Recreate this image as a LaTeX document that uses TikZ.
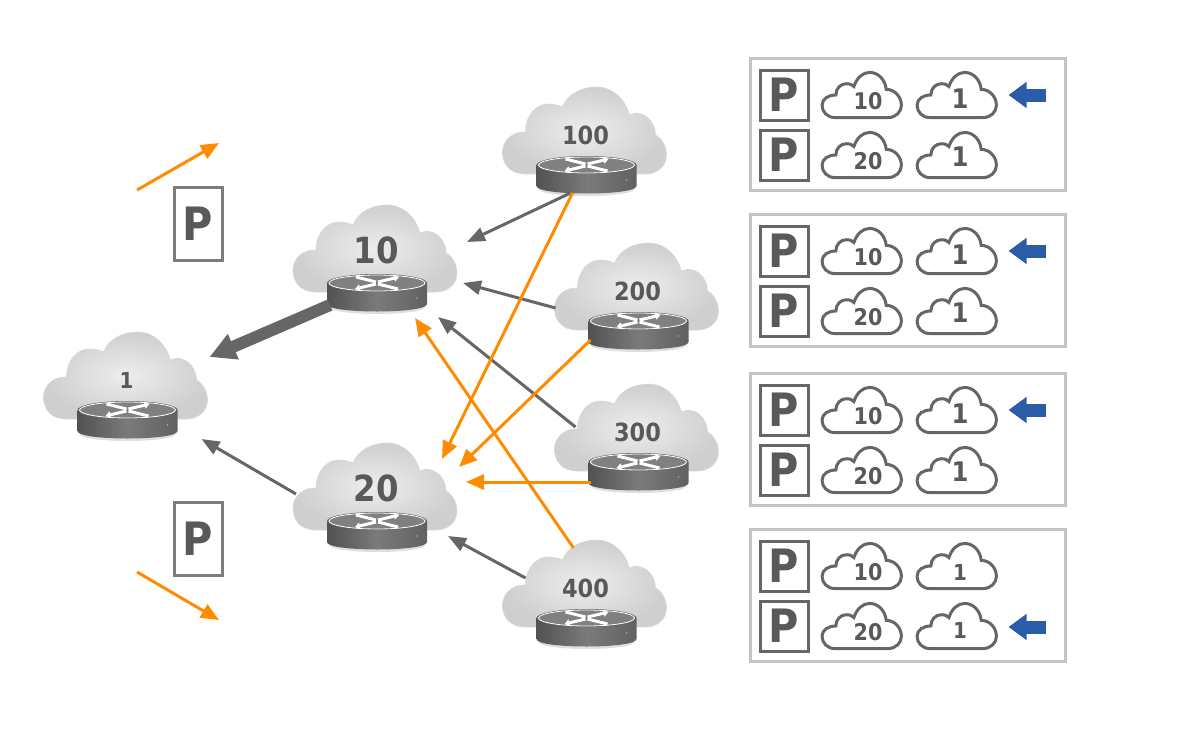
\documentclass[tikz,border=0pt]{standalone}
\usepackage{fontspec}
\setmainfont{DejaVu Sans Condensed}
\usetikzlibrary{arrows.meta}
\definecolor{numgray}{HTML}{595959}
\definecolor{linegray}{HTML}{666666}
\definecolor{boxgray}{HTML}{C4C4C4}
\definecolor{pathorange}{HTML}{FF8C00}
\definecolor{bestblue}{HTML}{2B5CA8}
\newcommand{\cloudshape}{(-60,32) .. controls (-76,32) and (-83,22) .. (-83,10) .. controls (-83,-2) and (-72,-11) .. (-60,-10) .. controls (-60,-28) and (-48,-38) .. (-38,-38) .. controls (-32,-38) and (-27,-37) .. (-23,-35) .. controls (-18,-48) and (-4,-55) .. (11,-55) .. controls (28,-55) and (40,-42) .. (44,-27) .. controls (56,-33) and (70,-22) .. (70,-7) .. controls (76,-4) and (81,4) .. (81,13) .. controls (81,24) and (72,32) .. (60,32) -- cycle}
\newcommand{\iconshape}{(-28,24) .. controls (-36,24) and (-41.5,18) .. (-41.5,11) .. controls (-41.5,4) and (-35,0) .. (-27,0) .. controls (-27,-7) and (-22,-12) .. (-16,-12) .. controls (-12,-12) and (-10,-11) .. (-8,-9) .. controls (-5,-18) and (1,-24) .. (8.5,-24) .. controls (18,-24) and (25,-16) .. (26,-6) .. controls (35,-6) and (42,2) .. (42,11) .. controls (42,18) and (36,24) .. (28,24) -- cycle}
\begin{document}
\begin{tikzpicture}[x=1pt,y=-1pt]
    \tikzset{bignum/.style = {font=\fontsize{36}{36}\selectfont\bfseries,text=numgray,inner sep=0pt}}
    \tikzset{midnum/.style = {font=\fontsize{25}{25}\selectfont\bfseries,text=numgray,inner sep=0pt}}
    \tikzset{smallnum/.style = {font=\fontsize{22}{22}\selectfont\bfseries,text=numgray,inner sep=0pt}}
    \tikzset{iconnum/.style = {font=\fontsize{23}{23}\selectfont\bfseries,text=numgray,inner sep=0pt}}
    \tikzset{prefixbox/.style = {draw=linegray,line width=3pt,minimum width=48pt,minimum height=50pt,inner sep=0pt,text=numgray,font=\fontsize{46}{46}\selectfont\bfseries}}
    \tikzset{tallbox/.style = {prefixbox,draw=linegray!85,minimum height=73pt}}
    \tikzset{panelbox/.style = {draw=boxgray,line width=3pt,minimum width=315pt,minimum height=132pt,inner sep=0pt}}
    \tikzset{grayedge/.style = {draw=linegray,line width=3pt,-{Triangle[length=18pt,width=14pt]}}}
    \tikzset{orangeedge/.style = {draw=pathorange,line width=3pt,-{Triangle[length=18pt,width=15pt]}}}
    \tikzset{bestedge/.style = {draw=linegray,line width=12pt,-{Triangle[length=26pt,width=26pt]}}}
    \tikzset{bluemark/.style = {draw=bestblue,line width=13pt,-{Triangle[length=18pt,width=25pt]}}}
    \tikzset{netcloud/.pic = {
        \shade[inner color=gray!14,outer color=gray!38] \cloudshape;
        \draw[gray!30,line width=.6pt] \cloudshape;
        \fill[black!25,opacity=.5] (1,47) ellipse [x radius=48pt,y radius=7pt];
        \shade[left color=black!68,right color=black!62,middle color=black!52] (-49,23) -- (-49,44) .. controls (-49,54) and (51,54) .. (51,44) -- (51,23) -- cycle;
        \fill[black!62] (1,23) ellipse [x radius=50pt,y radius=9pt];
        \fill[black!50,draw=white,line width=.8pt] (1,23) ellipse [x radius=48pt,y radius=8pt];
        \draw[white,line width=3pt,-{Triangle[length=5pt,width=7pt]}] (0,24) -- (-21,29);
        \draw[white,line width=3pt,-{Triangle[length=5pt,width=7pt]}] (2,22) -- (23,17);
        \draw[white,line width=3pt] (0,22) -- (-20,17);
        \draw[white,line width=3pt] (2,24) -- (22,29);
        \fill[yellow!70!black] (41,38) circle (.8pt);
    }}
    \tikzset{iconcloud/.pic = {
        \draw[draw=linegray,line width=3pt,fill=white,xscale=.95,yscale=.94] \iconshape;
    }}
    \useasboundingbox (0,0) rectangle (1200,750);
    %clouds
    \foreach \name/\cx/\cy/\ty/\numstyle in {1/126.5/387/380/smallnum,10/376/260/250/bignum,20/376/498/488/bignum,100/585.5/142/135/midnum,200/637.5/298/291/midnum,300/637.5/439/432/midnum,400/585.5/595/588/midnum} {
        \pic at (\cx,\cy) {netcloud};
        \node[\numstyle] (c\name) at (\cx,\ty) {\name};
    }
    %edges
    \draw[grayedge] ([shift={(-15,58)}]c100.center) to ([shift={(91,-8)}]c10.center);
    \draw[grayedge] ([shift={(-82,17)}]c200.center) to ([shift={(87,33)}]c10.center);
    \draw[grayedge] ([shift={(-62,-5)}]c300.center) to ([shift={(62,67)}]c10.center);
    \draw[grayedge] ([shift={(-60,-10)}]c400.center) to ([shift={(72,48)}]c20.center);
    \draw[grayedge] ([shift={(-80,6)}]c20.center) to ([shift={(75,59)}]c1.center);
    \draw[bestedge] ([shift={(-46,55)}]c10.center) to ([shift={(83,-23)}]c1.center);
    \draw[orangeedge] ([shift={(-13,58)}]c100.center) to ([shift={(66,-29)}]c20.center);
    \draw[orangeedge] ([shift={(-47,49)}]c200.center) to ([shift={(83,-21)}]c20.center);
    \draw[orangeedge] ([shift={(-47,50)}]c300.center) to ([shift={(90,-6)}]c20.center);
    \draw[orangeedge] ([shift={(-12,-40)}]c400.center) to ([shift={(39,68)}]c10.center);
    %left side
    \node[tallbox] (pup) at (198,223.5) {P};
    \node[tallbox] (pdown) at (198,538.5) {P};
    \coordinate (upstart) at (137,190);
    \coordinate (upend) at (219,143);
    \coordinate (downstart) at (137,572);
    \coordinate (downend) at (219,620);
    \draw[orangeedge] (upstart) to (upend);
    \draw[orangeedge] (downstart) to (downend);
    %tables
    \foreach \n/\dy/\cn/\mark/\oy in {1/0/27/-29/99,2/156/27/-29/99,3/315/27/-29/99,4/471/22/32/101} {
        \node[panelbox] (panel\n) at (907.5,124+\dy) {};
        \node[prefixbox] (pa\n) at (784,95+\dy) {P};
        \node[prefixbox] (pb\n) at (784,155+\dy) {P};
        \pic at (861.5,95+\dy) {iconcloud};
        \pic at (956.5,95+\dy) {iconcloud};
        \pic at (861.5,155+\dy) {iconcloud};
        \pic at (956.5,155+\dy) {iconcloud};
        \node[iconnum] (ta\n) at (868,101+\dy) {10};
        \node[iconnum,font=\fontsize{\cn}{\cn}\selectfont\bfseries] (tb\n) at (960,\oy+\dy) {1};
        \node[iconnum] (tc\n) at (868,161+\dy) {20};
        \node[iconnum,font=\fontsize{\cn}{\cn}\selectfont\bfseries] (td\n) at (960,\oy+58+\dy) {1};
        \draw[bluemark] ([shift={(-21,\mark)}]panel\n.east) to ([shift={(-58,\mark)}]panel\n.east);
    }
\end{tikzpicture}
\end{document}
